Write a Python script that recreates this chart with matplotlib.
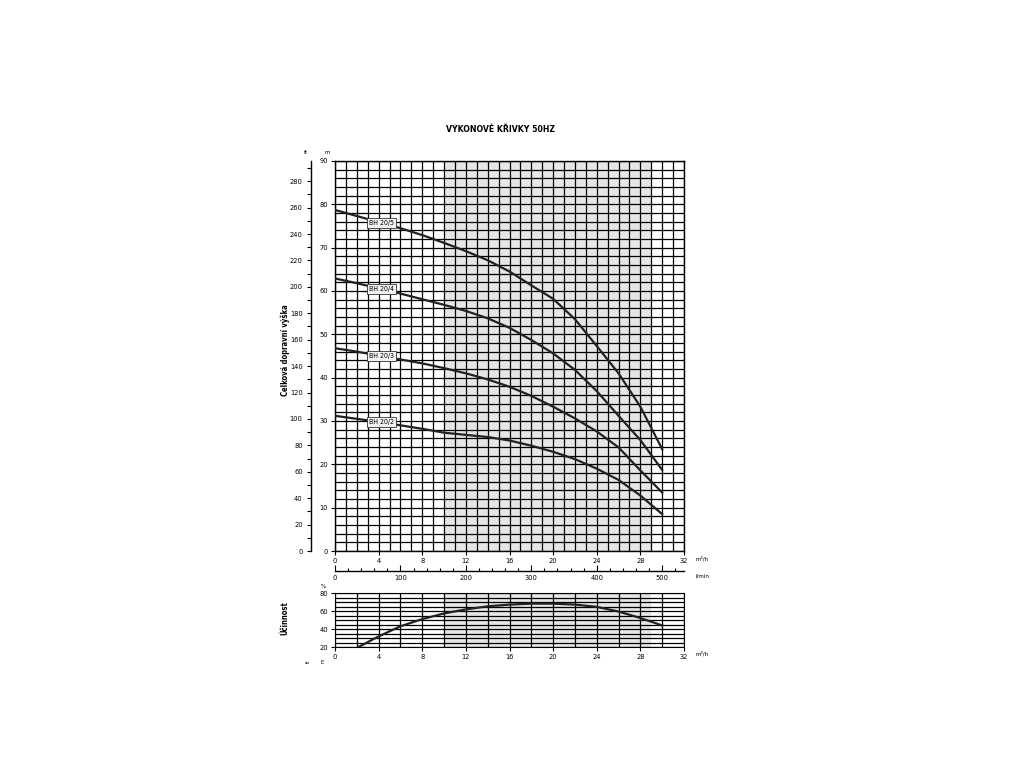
import numpy as np
import matplotlib
matplotlib.use("Agg")
import matplotlib.pyplot as plt
from matplotlib.ticker import MultipleLocator

plt.rcParams["font.family"] = ["DejaVu Sans"]
plt.rcParams["font.stretch"] = "condensed"

# Flow (m3/h) and head (m).
q = [0, 2, 4, 6, 8, 10, 12, 14, 16, 18, 20, 22, 24, 26, 28, 30]
h_20_5 = [78.7, 77.3, 75.9, 74.5, 72.9, 71.1, 69.2, 67.1, 64.5, 61.3, 58.2, 53.5, 47.3, 41.0, 33.3, 23.5]
h_20_4 = [62.9, 61.8, 60.6, 59.4, 58.1, 56.8, 55.4, 53.7, 51.5, 48.7, 45.6, 41.8, 36.9, 31.2, 25.6, 18.7]
h_20_3 = [46.8, 46.0, 45.1, 44.2, 43.3, 42.2, 41.0, 39.6, 37.9, 35.8, 33.3, 30.6, 27.6, 23.9, 18.6, 13.5]
h_20_2 = [31.2, 30.5, 29.8, 29.0, 28.2, 27.3, 26.8, 26.3, 25.5, 24.3, 22.9, 21.2, 19.0, 16.4, 12.8, 8.5]
pumps = ["BH 20/5", "BH 20/4", "BH 20/3", "BH 20/2"]

# Efficiency curve
q_eff = [2, 4, 6, 8, 10, 12, 14, 16, 18, 20, 22, 24, 26, 28, 30]
eff = [19.0, 31.8, 43.0, 51.0, 57.3, 61.8, 65.2, 67.1, 68.2, 68.2, 67.1, 64.6, 59.4, 52.2, 43.9]

# Recommended working range (shaded)
q_range = [10, 29]

fig = plt.figure(figsize=(10.24, 7.68), dpi=100)
W, H = 1024, 768

def frac(x0, y0, x1, y1):
    return [x0 / W, 1 - y1 / H, (x1 - x0) / W, (y1 - y0) / H]

shade = "#e6e6e6"
fs = 5.3

# Main head chart
ax = fig.add_axes(frac(335, 161, 684, 551))
ax.axvspan(q_range[0], q_range[1], color=shade, zorder=0, lw=0)
ax.set_xlim(0, 32)
ax.set_ylim(0, 90)
ax.xaxis.set_major_locator(MultipleLocator(4))
ax.xaxis.set_minor_locator(MultipleLocator(1))
ax.yaxis.set_major_locator(MultipleLocator(10))
ax.yaxis.set_minor_locator(MultipleLocator(2))
ax.grid(which="both", color="black", linewidth=0.9, zorder=1)
ax.set_axisbelow(True)
ax.tick_params(which="major", labelsize=fs, length=3, width=0.8, pad=2)
ax.tick_params(which="minor", length=0)
for s in ax.spines.values():
    s.set_linewidth(1.0)

for name, hv in zip(pumps, [h_20_5, h_20_4, h_20_3, h_20_2]):
    ax.plot(q, hv, color="#222222", linewidth=1.6, zorder=3)
    ax.text(4.3, np.interp(4.3, q, hv), name, fontsize=5, ha="center", va="center", zorder=4,
            bbox=dict(boxstyle="square,pad=0.3", fc="#f2f2f2", ec="#333333", lw=0.6))

fig.text(327 / W, 1 - 153 / H, "m", fontsize=4.5, ha="center", va="center")
fig.text(306 / W, 1 - 153 / H, "ft", fontsize=4.5, ha="center", va="center")
fig.text(702 / W, 1 - 559 / H, "m³/h", fontsize=4.5, ha="center", va="center")
fig.text(702 / W, 1 - 576 / H, "l/min", fontsize=4.5, ha="center", va="center")

# ft axis
axf = fig.add_axes(frac(311, 161, 312, 551))
axf.set_ylim(0, 90 * 3.2808)
axf.set_xticks([])
for k in ["top", "right", "bottom"]:
    axf.spines[k].set_visible(False)
axf.spines["left"].set_linewidth(1.0)
axf.yaxis.set_major_locator(MultipleLocator(20))
axf.yaxis.set_minor_locator(MultipleLocator(10))
axf.tick_params(which="major", labelsize=fs, length=3, width=0.8, pad=3)
axf.tick_params(which="minor", length=3, width=0.8)
axf.patch.set_alpha(0)

# l/min axis
axl = fig.add_axes(frac(335, 570, 684, 571))
axl.set_xlim(0, 32 * 1000 / 60)
axl.set_yticks([])
for k in ["top", "right", "left"]:
    axl.spines[k].set_visible(False)
axl.spines["bottom"].set_linewidth(1.0)
axl.xaxis.set_major_locator(MultipleLocator(100))
axl.xaxis.set_minor_locator(MultipleLocator(20))
axl.tick_params(which="major", direction="in", labelsize=fs, length=4, width=0.8, pad=3)
axl.tick_params(which="minor", direction="in", length=2.5, width=0.8)
axl.patch.set_alpha(0)

fig.text(500 / W, 1 - 130 / H, "VÝKONOVÉ KŘIVKY 50HZ", fontsize=6.2, fontweight="bold",
         ha="center", va="center")
fig.text(285 / W, 1 - 350 / H, "Celková dopravní výška", fontsize=5.5, fontweight="bold",
         rotation=90, ha="center", va="center")

# Efficiency chart
axe = fig.add_axes(frac(335, 593, 684, 647))
axe.axvspan(q_range[0], q_range[1], color=shade, zorder=0, lw=0)
axe.set_xlim(0, 32)
axe.set_ylim(20, 80)
axe.xaxis.set_major_locator(MultipleLocator(4))
axe.xaxis.set_minor_locator(MultipleLocator(2))
axe.yaxis.set_major_locator(MultipleLocator(20))
axe.yaxis.set_minor_locator(MultipleLocator(5))
axe.grid(which="both", color="black", linewidth=0.9, zorder=1)
axe.set_axisbelow(True)
axe.tick_params(which="major", labelsize=fs, length=3, width=0.8, pad=2)
axe.tick_params(which="minor", length=0)
axe.plot(q_eff, eff, color="#222222", linewidth=1.6, zorder=3)
fig.text(323 / W, 1 - 587 / H, "%", fontsize=4.5, ha="center", va="center")
fig.text(702 / W, 1 - 654 / H, "m³/h", fontsize=4.5, ha="center", va="center")
fig.text(285 / W, 1 - 618 / H, "Účinnost", fontsize=5.5, fontweight="bold",
         rotation=90, ha="center", va="center")
fig.text(308 / W, 1 - 661 / H, "ft", fontsize=3.5, rotation=90, ha="center", va="center")
fig.text(323 / W, 1 - 661 / H, "m", fontsize=3.5, rotation=90, ha="center", va="center")

fig.savefig("out.png", dpi=100)
